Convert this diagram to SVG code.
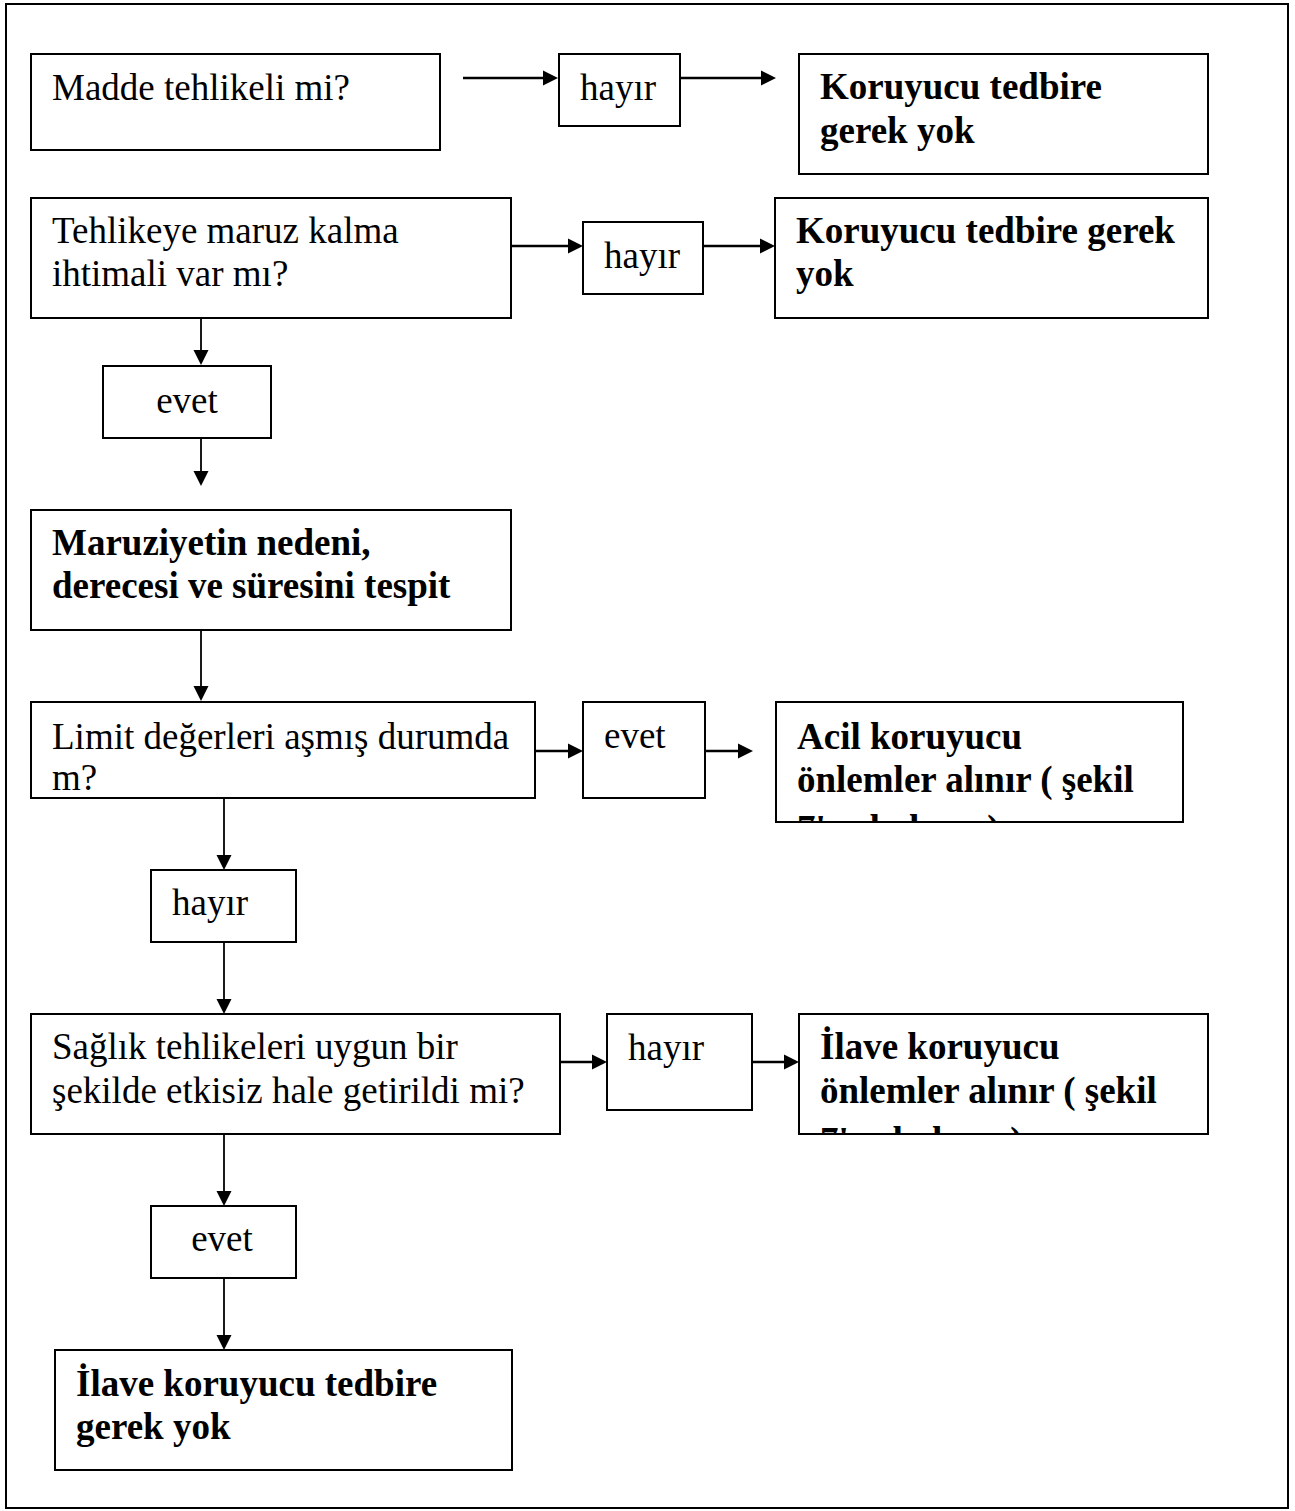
<svg xmlns="http://www.w3.org/2000/svg" width="1295" height="1511" viewBox="0 0 1295 1511">
  <style>
    .box { fill: #ffffff; stroke: #000000; stroke-width: 2; }
    .frame { fill: #ffffff; stroke: #000000; stroke-width: 2; }
    .t { font-family: "Liberation Serif", "Times New Roman", serif; font-size: 37px; fill: #000000; }
    .b { font-weight: bold; }
    .h { stroke: #000000; stroke-width: 2.5; fill: none; marker-end: url(#arrow); }
    .v { stroke: #000000; stroke-width: 1.8; fill: none; marker-end: url(#arrow); }
  </style>
  <defs>
    <marker id="arrow" markerUnits="userSpaceOnUse" markerWidth="15" markerHeight="15" refX="4" refY="7.5" orient="auto" overflow="visible">
      <path d="M0,0 L15,7.5 L0,15 z" fill="#000000"/>
    </marker>
    <clipPath id="clip-acil"><rect x="776" y="702" width="407" height="119"/></clipPath>
    <clipPath id="clip-ilave"><rect x="799" y="1014" width="409" height="119"/></clipPath>
  </defs>

  <!-- page frame -->
  <rect class="frame" x="6" y="4" width="1282" height="1504"/>

  <!-- connectors -->
  <g id="connectors">
    <line class="h" x1="463" y1="78" x2="547" y2="78"/>
    <line class="h" x1="680" y1="78" x2="765" y2="78"/>
    <line class="h" x1="511" y1="246" x2="572" y2="246"/>
    <line class="h" x1="703" y1="246" x2="764" y2="246"/>
    <line class="v" x1="201" y1="318" x2="201" y2="354"/>
    <line class="v" x1="201" y1="438" x2="201" y2="475"/>
    <line class="v" x1="201" y1="630" x2="201" y2="690"/>
    <line class="h" x1="535" y1="751" x2="572" y2="751"/>
    <line class="h" x1="705" y1="751" x2="742" y2="751"/>
    <line class="v" x1="224" y1="798" x2="224" y2="859"/>
    <line class="v" x1="224" y1="942" x2="224" y2="1003"/>
    <line class="h" x1="560" y1="1062" x2="596" y2="1062"/>
    <line class="h" x1="752" y1="1062" x2="788" y2="1062"/>
    <line class="v" x1="224" y1="1134" x2="224" y2="1195"/>
    <line class="v" x1="224" y1="1278" x2="224" y2="1339"/>
  </g>

  <!-- nodes -->
  <g id="madde-tehlikeli">
    <rect class="box" x="31" y="54" width="409" height="96"/>
    <text class="t" x="52" y="100">Madde tehlikeli mi?</text>
  </g>
  <g id="hayir-1">
    <rect class="box" x="559" y="54" width="121" height="72"/>
    <text class="t" x="580" y="100">hayır</text>
  </g>
  <g id="koruyucu-1">
    <rect class="box" x="799" y="54" width="409" height="120"/>
    <text class="t b" x="820" y="99">Koruyucu tedbire</text>
    <text class="t b" x="820" y="143">gerek yok</text>
  </g>

  <g id="maruz-kalma">
    <rect class="box" x="31" y="198" width="480" height="120"/>
    <text class="t" x="52" y="243">Tehlikeye maruz kalma</text>
    <text class="t" x="52" y="286">ihtimali var mı?</text>
  </g>
  <g id="hayir-2">
    <rect class="box" x="583" y="222" width="120" height="72"/>
    <text class="t" x="604" y="268">hayır</text>
  </g>
  <g id="koruyucu-2">
    <rect class="box" x="775" y="198" width="433" height="120"/>
    <text class="t b" x="796" y="243">Koruyucu tedbire gerek</text>
    <text class="t b" x="796" y="286">yok</text>
  </g>

  <g id="evet-1">
    <rect class="box" x="103" y="366" width="168" height="72"/>
    <text class="t" x="187" y="413" text-anchor="middle">evet</text>
  </g>

  <g id="maruziyet">
    <rect class="box" x="31" y="510" width="480" height="120"/>
    <text class="t b" x="52" y="555">Maruziyetin nedeni,</text>
    <text class="t b" x="52" y="598">derecesi ve süresini tespit</text>
  </g>

  <g id="limit-degerler">
    <rect class="box" x="31" y="702" width="504" height="96"/>
    <text class="t" x="52" y="749">Limit değerleri aşmış durumda</text>
    <text class="t" x="52" y="790">m?</text>
  </g>
  <g id="evet-2">
    <rect class="box" x="583" y="702" width="122" height="96"/>
    <text class="t" x="604" y="748">evet</text>
  </g>
  <g id="acil-onlem">
    <rect class="box" x="776" y="702" width="407" height="120"/>
    <text class="t b" x="797" y="749">Acil koruyucu</text>
    <text class="t b" x="797" y="792">önlemler alınır ( şekil</text>
    <text class="t b" x="797" y="841" clip-path="url(#clip-acil)">7'ye bakınız)</text>
  </g>

  <g id="hayir-3">
    <rect class="box" x="151" y="870" width="145" height="72"/>
    <text class="t" x="172" y="915">hayır</text>
  </g>

  <g id="saglik-tehlikeleri">
    <rect class="box" x="31" y="1014" width="529" height="120"/>
    <text class="t" x="52" y="1059">Sağlık tehlikeleri uygun bir</text>
    <text class="t" x="52" y="1103">şekilde etkisiz hale getirildi mi?</text>
  </g>
  <g id="hayir-4">
    <rect class="box" x="607" y="1014" width="145" height="96"/>
    <text class="t" x="628" y="1060">hayır</text>
  </g>
  <g id="ilave-onlem">
    <rect class="box" x="799" y="1014" width="409" height="120"/>
    <text class="t b" x="820" y="1059">İlave koruyucu</text>
    <text class="t b" x="820" y="1103">önlemler alınır ( şekil</text>
    <text class="t b" x="820" y="1153" clip-path="url(#clip-ilave)">7'ye bakınız)</text>
  </g>

  <g id="evet-3">
    <rect class="box" x="151" y="1206" width="145" height="72"/>
    <text class="t" x="222" y="1251" text-anchor="middle">evet</text>
  </g>

  <g id="ilave-gerek-yok">
    <rect class="box" x="55" y="1350" width="457" height="120"/>
    <text class="t b" x="76" y="1396">İlave koruyucu tedbire</text>
    <text class="t b" x="76" y="1439">gerek yok</text>
  </g>
</svg>
